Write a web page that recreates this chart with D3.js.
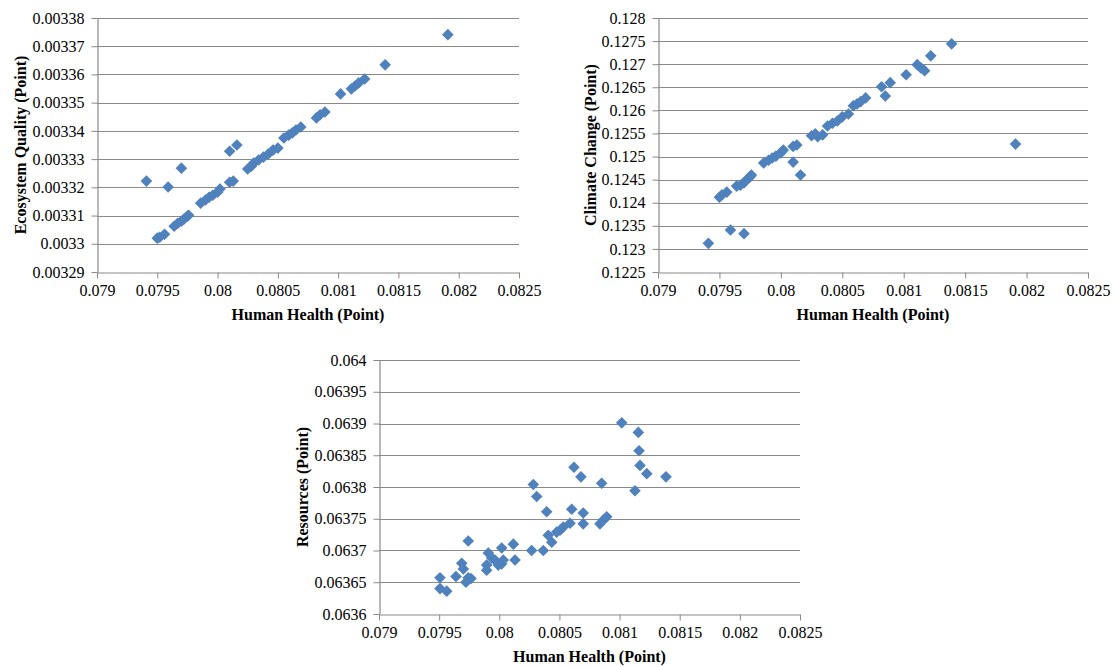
<!DOCTYPE html>
<html>
<head>
<meta charset="utf-8">
<script src="https://cdn.jsdelivr.net/npm/d3@7"></script>
<style>
  html, body { margin: 0; padding: 0; background: #fff; }
  svg { display: block; }
  .tick text { font-family: "Liberation Serif", "Times New Roman", serif; font-size: 16px; fill: #000; }
  .title { font-family: "Liberation Serif", "Times New Roman", serif; font-size: 16px; font-weight: bold; fill: #000; }
</style>
</head>
<body>
<svg id="chart" width="1115" height="667"></svg>
<script>
// ---------------- DATA ----------------
const xTickLabels = ["0.079","0.0795","0.08","0.0805","0.081","0.0815","0.082","0.0825"];
const eqTickLabels = ["0.00329","0.0033","0.00331","0.00332","0.00333","0.00334","0.00335","0.00336","0.00337","0.00338"];
const ccTickLabels = ["0.1225","0.123","0.1235","0.124","0.1245","0.125","0.1255","0.126","0.1265","0.127","0.1275","0.128"];
const resTickLabels = ["0.0636","0.06365","0.0637","0.06375","0.0638","0.06385","0.0639","0.06395","0.064"];

// Human Health values shared by the two upper plots
const humanHealth = [
  0.07941,0.07950,0.07952,0.07956,0.07959,0.07964,0.07967,0.07970,0.07970,0.07972,
  0.07975,0.07976,0.07986,0.07990,0.07993,0.07996,0.08000,0.08002,0.08010,0.08010,
  0.08013,0.08016,0.08025,0.08028,0.08030,0.08034,0.08038,0.08042,0.08046,0.08050,
  0.08055,0.08059,0.08062,0.08065,0.08069,0.08082,0.08085,0.08089,0.08102,0.08111,
  0.08114,0.08117,0.08122,0.08139,0.08191
];
const ecosystemQuality = [
  0.0033222,0.0033020,0.0033023,0.0033034,0.0033201,0.0033062,0.0033073,0.0033080,0.0033268,0.0033087,
  0.0033098,0.0033101,0.0033144,0.0033155,0.0033165,0.0033172,0.0033183,0.0033194,0.0033218,0.0033328,
  0.0033222,0.0033350,0.0033265,0.0033275,0.0033286,0.0033297,0.0033307,0.0033318,0.0033332,0.0033339,
  0.0033375,0.0033385,0.0033393,0.0033403,0.0033414,0.0033446,0.0033457,0.0033467,0.0033531,0.0033549,
  0.0033559,0.0033570,0.0033584,0.0033634,0.0033741
];
const climateChange = [
  0.12312,0.12412,0.12417,0.12423,0.12341,0.12436,0.12438,0.12443,0.12333,0.12449,
  0.12456,0.12460,0.12486,0.12492,0.12497,0.12501,0.12508,0.12514,0.12522,0.12488,
  0.12525,0.12460,0.12545,0.12549,0.12543,0.12547,0.12566,0.12572,0.12577,0.12586,
  0.12592,0.12610,0.12614,0.12619,0.12627,0.12651,0.12631,0.12660,0.12677,0.12699,
  0.12692,0.12686,0.12718,0.12744,0.12527
];

// Human Health values and Resources values in the lower plot
const humanHealthRes = [
  0.079507,0.079507,0.079563,0.079640,0.079688,0.079701,0.079742,0.079742,0.079765,0.079723,
  0.079895,0.079895,0.079909,0.079937,0.079964,0.079992,0.080020,0.080033,0.080020,0.080117,
  0.080131,0.080269,0.080283,0.080311,0.080366,0.080394,0.080407,0.080436,0.080477,0.080505,
  0.080532,0.080588,0.080602,0.080621,0.080679,0.080698,0.080698,0.080837,0.080865,0.080893,
  0.080851,0.081018,0.081156,0.081162,0.081170,0.081226,0.081128,0.081386
];
const resources = [
  0.063640,0.063657,0.063636,0.063659,0.063680,0.063671,0.063715,0.063657,0.063656,0.063650,
  0.063677,0.063669,0.063696,0.063688,0.063685,0.063677,0.063679,0.063685,0.063704,0.063710,
  0.063685,0.063700,0.063804,0.063785,0.063700,0.063761,0.063724,0.063713,0.063729,0.063732,
  0.063737,0.063743,0.063765,0.063831,0.063816,0.063759,0.063742,0.063742,0.063748,0.063753,
  0.063806,0.063901,0.063886,0.063857,0.063834,0.063821,0.063794,0.063816
];

// ---------------- DRAWING ----------------
const svg = d3.select("#chart");
const markColor = "#4F81BD";
const gridColor = "#8A8A8A";

const diamond = r => `M0,${-r}L${r},0L0,${r}L${-r},0Z`;

function drawPanel(cfg) {
  const g = svg.append("g");
  const xVals = xTickLabels.map(Number);
  const yVals = cfg.yLabels.map(Number);
  const x = d3.scaleLinear().domain([xVals[0], xVals[xVals.length - 1]]).range([cfg.left, cfg.right]);
  const y = d3.scaleLinear().domain([yVals[0], yVals[yVals.length - 1]]).range([cfg.bottom, cfg.top]);

  // horizontal gridlines
  g.append("g").selectAll("line").data(yVals.slice(1)).join("line")
    .attr("x1", cfg.left).attr("x2", cfg.right)
    .attr("y1", d => Math.round(y(d)) + 0.5).attr("y2", d => Math.round(y(d)) + 0.5)
    .attr("stroke", gridColor).attr("stroke-width", 1.2);

  // x axis
  const xAxis = d3.axisBottom(x).tickValues(xVals)
    .tickFormat((d, i) => xTickLabels[i]).tickSize(6).tickSizeOuter(0).tickPadding(6);
  const gx = g.append("g").attr("transform", `translate(0,${Math.round(cfg.bottom) + 0.5})`).call(xAxis);
  gx.select(".domain").attr("stroke", gridColor).attr("stroke-width", 1.2);
  gx.selectAll(".tick line").attr("stroke", gridColor);

  // y axis
  const yAxis = d3.axisLeft(y).tickValues(yVals)
    .tickFormat((d, i) => cfg.yLabels[i]).tickSize(6).tickSizeOuter(0).tickPadding(7);
  const gy = g.append("g").attr("transform", `translate(${Math.round(cfg.left) + 0.5},0)`).call(yAxis);
  gy.select(".domain").attr("stroke", gridColor).attr("stroke-width", 1.2);
  gy.selectAll(".tick line").attr("stroke", gridColor);

  // points
  g.append("g").selectAll("path").data(cfg.xs.map((v, i) => [v, cfg.ys[i]])).join("path")
    .attr("d", diamond(5.8))
    .attr("transform", d => `translate(${x(d[0])},${y(d[1])})`)
    .attr("fill", markColor);

  // titles
  g.append("text").attr("class", "title")
    .attr("x", (cfg.left + cfg.right) / 2).attr("y", cfg.bottom + 48)
    .attr("text-anchor", "middle").text(cfg.xTitle);
  g.append("text").attr("class", "title")
    .attr("transform", `translate(${cfg.yTitleX},${(cfg.top + cfg.bottom) / 2}) rotate(-90)`)
    .attr("text-anchor", "middle").text(cfg.yTitle);
}

drawPanel({
  left: 97, right: 519, top: 18, bottom: 272,
  yLabels: eqTickLabels, xs: humanHealth, ys: ecosystemQuality,
  xTitle: "Human Health (Point)", yTitle: "Ecosystem Quality (Point)", yTitleX: 26
});
drawPanel({
  left: 658, right: 1088, top: 18, bottom: 272,
  yLabels: ccTickLabels, xs: humanHealth, ys: climateChange,
  xTitle: "Human Health (Point)", yTitle: "Climate Change (Point)", yTitleX: 596
});
drawPanel({
  left: 379, right: 800, top: 360, bottom: 614,
  yLabels: resTickLabels, xs: humanHealthRes, ys: resources,
  xTitle: "Human Health (Point)", yTitle: "Resources (Point)", yTitleX: 308
});
</script>
</body>
</html>
